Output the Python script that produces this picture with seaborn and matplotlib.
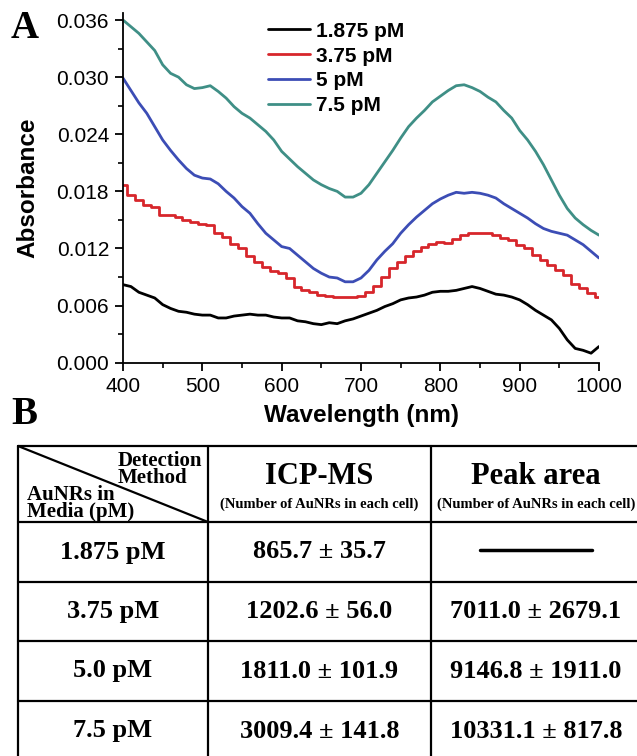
import numpy as np
import pandas as pd
import matplotlib
matplotlib.use('Agg')
import matplotlib.pyplot as plt
from matplotlib.ticker import MultipleLocator
import seaborn as sns

# Panel A: absorbance spectra (values in milli-absorbance, read every 10 nm)
wavelength = np.arange(400, 1001, 10)

abs_1875 = [8.2, 8.0, 7.4, 7.1, 6.8, 6.1, 5.7, 5.4, 5.3, 5.1,
            5.0, 5.0, 4.7, 4.7, 4.9, 5.0, 5.1, 5.0, 5.0, 4.8,
            4.7, 4.7, 4.4, 4.3, 4.1, 4.0, 4.2, 4.1, 4.4, 4.6,
            4.9, 5.2, 5.5, 5.9, 6.2, 6.6, 6.8, 6.9, 7.1, 7.4,
            7.5, 7.5, 7.6, 7.8, 8.0, 7.8, 7.5, 7.2, 7.1, 6.9,
            6.6, 6.1, 5.5, 5.0, 4.5, 3.6, 2.4, 1.5, 1.3, 1.0,
            1.7]
abs_375 = [18.7, 17.6, 17.1, 16.6, 16.4, 15.5, 15.5, 15.3, 15.0, 14.8,
           14.6, 14.5, 13.6, 13.2, 12.5, 12.0, 11.2, 10.6, 10.1, 9.6,
           9.4, 8.9, 8.0, 7.6, 7.4, 7.1, 7.0, 6.9, 6.9, 6.9,
           7.0, 7.4, 8.1, 9.0, 9.9, 10.6, 11.2, 11.7, 12.2, 12.5,
           12.7, 12.6, 13.0, 13.4, 13.6, 13.6, 13.6, 13.4, 13.1, 12.9,
           12.4, 12.0, 11.3, 10.8, 10.3, 9.7, 9.2, 8.3, 7.8, 7.3,
           6.9]
abs_5 = [29.9, 28.6, 27.3, 26.2, 24.8, 23.4, 22.3, 21.3, 20.4, 19.7,
         19.4, 19.3, 18.8, 18.0, 17.3, 16.4, 15.7, 14.6, 13.6, 12.9,
         12.2, 12.0, 11.3, 10.6, 9.9, 9.4, 9.0, 8.9, 8.5, 8.5,
         8.9, 9.7, 10.8, 11.7, 12.5, 13.6, 14.5, 15.3, 16.0, 16.7,
         17.2, 17.6, 17.9, 17.8, 17.9, 17.8, 17.6, 17.3, 16.7, 16.2,
         15.7, 15.2, 14.6, 14.1, 13.8, 13.6, 13.4, 12.9, 12.4, 11.7,
         11.0]
abs_75 = [36.0, 35.3, 34.6, 33.7, 32.8, 31.3, 30.4, 30.0, 29.2, 28.8,
          28.9, 29.1, 28.5, 27.8, 26.9, 26.2, 25.7, 25.0, 24.3, 23.4,
          22.2, 21.4, 20.6, 19.9, 19.2, 18.7, 18.3, 18.0, 17.4, 17.4,
          17.8, 18.7, 19.9, 21.1, 22.3, 23.6, 24.8, 25.7, 26.5, 27.4,
          28.0, 28.6, 29.1, 29.2, 28.9, 28.5, 27.9, 27.4, 26.5, 25.7,
          24.4, 23.4, 22.2, 20.8, 19.2, 17.6, 16.2, 15.2, 14.5, 13.9,
          13.4]

concentrations = ['1.875 pM', '3.75 pM', '5 pM', '7.5 pM']
line_colors = ['#000000', '#d7262b', '#3c4db5', '#3f8f86']

# Panel B: table
media_labels = ['1.875 pM', '3.75 pM', '5.0 pM', '7.5 pM']
icp_mean = [865.7, 1202.6, 1811.0, 3009.4]
icp_sd = [35.7, 56.0, 101.9, 141.8]
peak_mean = [None, 7011.0, 9146.8, 10331.1]
peak_sd = [None, 2679.1, 1911.0, 817.8]

frames = []
for name, vals in zip(concentrations, [abs_1875, abs_375, abs_5, abs_75]):
    frames.append(pd.DataFrame({'Wavelength': wavelength,
                                'Absorbance': np.array(vals) / 1000.0,
                                'Conc': name}))
df = pd.concat(frames, ignore_index=True)

sns.set_style('ticks')
plt.rcParams['font.family'] = ['Liberation Sans', 'DejaVu Sans']
plt.rcParams['text.color'] = 'black'
plt.rcParams['axes.labelcolor'] = 'black'
plt.rcParams['xtick.color'] = 'black'
plt.rcParams['ytick.color'] = 'black'

W, H = 637, 756
fig = plt.figure(figsize=(W / 100, H / 100), dpi=100)

# full-figure pixel canvas for the table and panel letters
tab = fig.add_axes([0, 0, 1, 1])
tab.set_xlim(0, W)
tab.set_ylim(H, 0)
tab.axis('off')

ax = fig.add_axes([123 / W, 1 - 362.7 / H, 476 / W, 349.7 / H])
ax.set_facecolor('none')

for name, color in zip(concentrations, line_colors):
    sub = df[df['Conc'] == name]
    sns.lineplot(data=sub, x='Wavelength', y='Absorbance', color=color,
                 lw=2.0, label=name, ax=ax, errorbar=None,
                 drawstyle='steps-mid' if name == '3.75 pM' else 'default')

ax.set_xlim(400, 1000)
ax.set_ylim(0, 0.03674)
ax.xaxis.set_major_locator(MultipleLocator(100))
ax.xaxis.set_minor_locator(MultipleLocator(50))
ax.yaxis.set_major_locator(MultipleLocator(0.006))
ax.yaxis.set_minor_locator(MultipleLocator(0.003))
ax.yaxis.set_major_formatter(matplotlib.ticker.FormatStrFormatter('%.3f'))
ax.tick_params(which='major', direction='out', length=6, width=1.3,
               labelsize=15, pad=4, colors='black')
ax.tick_params(which='minor', direction='out', length=3.5, width=1.2, colors='black')
sns.despine(ax=ax)
for s in ['left', 'bottom']:
    ax.spines[s].set_linewidth(1.3)
    ax.spines[s].set_color('black')
ax.set_xlabel('Wavelength (nm)', fontsize=17.5, fontweight='bold', labelpad=6)
ax.set_ylabel('Absorbance', fontsize=17.5, fontweight='bold', labelpad=12)

ax.legend(loc='upper left', bbox_to_anchor=(0.305, 0.975), frameon=False,
          prop={'weight': 'bold', 'size': 15}, handlelength=2.0,
          handletextpad=0.3, labelspacing=0.28, borderpad=0, borderaxespad=0)

serif = ['Liberation Serif', 'DejaVu Serif']
tab.text(11, 38, 'A', fontsize=28, fontweight='bold', family=serif, va='baseline')
tab.text(11, 424, 'B', fontsize=28, fontweight='bold', family=serif, va='baseline')

# table grid
col_x = [18, 208, 431, 641]
row_y = [446, 522, 582, 641, 701, 761]
for yy in row_y:
    tab.plot([col_x[0], col_x[-1]], [yy, yy], color='black', lw=1.6)
for xx in col_x:
    tab.plot([xx, xx], [row_y[0], row_y[-1]], color='black', lw=1.6)
tab.plot([col_x[0], col_x[1]], [row_y[0], row_y[1]], color='black', lw=1.6)

# header
tab.text(118, 483, 'Detection\nMethod', fontsize=15, fontweight='bold',
         family=serif, va='baseline', linespacing=0.8)
tab.text(27, 517, 'AuNRs in\nMedia (pM)', fontsize=15, fontweight='bold',
         family=serif, va='baseline', linespacing=0.8)
for i, head in enumerate(['ICP-MS', 'Peak area']):
    cx = (col_x[i + 1] + col_x[i + 2]) / 2
    tab.text(cx, 476, head, fontsize=22, fontweight='bold', family=serif,
             ha='center', va='center')
    tab.text(cx, 504, '(Number of AuNRs in each cell)', fontsize=10.5,
             fontweight='bold', family=serif, ha='center', va='center')

# body
for r in range(4):
    cy = (row_y[r + 1] + row_y[r + 2]) / 2
    cells = [media_labels[r], f'{icp_mean[r]:.1f} \u00b1 {icp_sd[r]:.1f}']
    if peak_mean[r] is None:
        cells.append(None)
    else:
        cells.append(f'{peak_mean[r]:.1f} \u00b1 {peak_sd[r]:.1f}')
    for c, txt in enumerate(cells):
        cx = (col_x[c] + col_x[c + 1]) / 2
        if txt is None:
            tab.plot([cx - 56, cx + 56], [cy - 2, cy - 2], color='black', lw=2.5)
        else:
            tab.text(cx, cy, txt, fontsize=19, fontweight='bold', family=serif,
                     ha='center', va='center')

fig.savefig('out.png', dpi=100)
